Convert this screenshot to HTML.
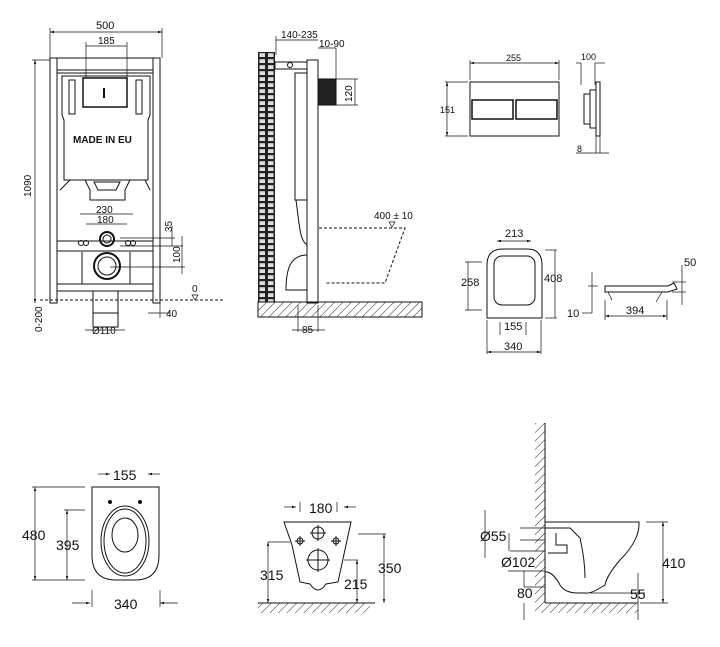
<!DOCTYPE html>
<html><head><meta charset="utf-8"><style>
html,body{margin:0;padding:0;background:#fff}
svg{display:block}
text{font-family:"Liberation Sans",Arial,sans-serif;fill:#111}
</style></head><body>
<svg width="720" height="647" viewBox="0 0 720 647" xmlns="http://www.w3.org/2000/svg">
<defs>
<pattern id="hatch" width="6" height="6" patternUnits="userSpaceOnUse" patternTransform="rotate(45)">
<line x1="0" y1="0" x2="0" y2="6" stroke="#222" stroke-width="1"/></pattern>
<pattern id="tile" x="258" y="52" width="8.5" height="6" patternUnits="userSpaceOnUse">
<rect width="8.5" height="6" fill="#222"/><rect x="1.5" y="1.2" width="5.5" height="3.8" fill="#ddd"/></pattern>
<marker id="a" viewBox="0 0 10 10" refX="10" refY="5" markerWidth="6" markerHeight="6" orient="auto-start-reverse"><path d="M0,2 L10,5 L0,8z" fill="#111"/></marker>
</defs>
<g stroke="#111" fill="none" stroke-width="1">
<!-- ===== Frame front ===== -->
<rect x="50" y="58" width="7" height="245"/><rect x="153" y="58" width="7" height="245"/>
<rect x="57" y="58" width="96" height="15"/>
<line x1="57" y1="70" x2="153" y2="70"/>
<path d="M62 76 H150 V115 L148 120 V180 H64 V120 L62 115 Z"/>
<rect x="83" y="78" width="44" height="29" stroke-width="1.5"/>
<line x1="104" y1="88" x2="104" y2="98" stroke-width="2"/>
<rect x="69" y="80" width="6" height="34"/><rect x="136" y="80" width="6" height="34"/>
<path d="M60 190 L70 180 H85 L90 190 V200 H125 V190 L130 180 H145 L150 190"/>
<path d="M94 182 H120 L116 190 H98 Z"/>
<line x1="57" y1="241" x2="153" y2="241"/><line x1="57" y1="251" x2="153" y2="251"/>
<rect x="57" y="284" width="96" height="7"/>
<line x1="82" y1="252" x2="82" y2="284"/><line x1="130" y1="252" x2="130" y2="284"/>
<circle cx="107" cy="239" r="7" stroke-width="2"/><circle cx="107" cy="239" r="4"/>
<circle cx="107" cy="266" r="13" stroke-width="2"/><circle cx="107" cy="266" r="9"/>
<circle cx="81" cy="243" r="2.5"/><circle cx="86" cy="243" r="2.5"/><circle cx="128" cy="243" r="2.5"/><circle cx="133" cy="243" r="2.5"/>
<rect x="93" y="291" width="25" height="36"/><line x1="93" y1="313" x2="118" y2="313"/>
<line x1="40" y1="300" x2="225" y2="300" stroke-dasharray="3,2"/>
<path d="M192 295 L198 295 L195 300 Z" stroke-width=".7"/>
<!-- dims frame -->
<line x1="50" y1="28" x2="50" y2="58" stroke-width=".7"/><line x1="162" y1="28" x2="162" y2="58" stroke-width=".7"/>
<line x1="50" y1="32" x2="162" y2="32" marker-start="url(#a)" marker-end="url(#a)" stroke-width=".7"/>
<line x1="86" y1="42" x2="86" y2="78" stroke-width=".7"/><line x1="127" y1="42" x2="127" y2="78" stroke-width=".7"/>
<line x1="86" y1="46" x2="127" y2="46" stroke-width=".7"/>
<line x1="35" y1="60" x2="35" y2="303" stroke-width=".7" marker-start="url(#a)" marker-end="url(#a)"/>
<line x1="32" y1="60" x2="50" y2="60" stroke-width=".7"/>
<line x1="80" y1="214" x2="133" y2="214" stroke-width=".7"/><line x1="86" y1="224" x2="127" y2="224" stroke-width=".7"/>
<line x1="120" y1="238" x2="175" y2="238" stroke-width=".7"/><line x1="120" y1="246" x2="183" y2="246" stroke-width=".7"/><line x1="110" y1="267" x2="185" y2="267" stroke-width=".7"/>
<line x1="172" y1="226" x2="172" y2="246" stroke-width=".7"/><line x1="182" y1="236" x2="182" y2="274" stroke-width=".7"/>
<line x1="160" y1="303" x2="160" y2="318" stroke-width=".7"/><line x1="148" y1="313" x2="170" y2="313" stroke-width=".7"/>
<line x1="85" y1="330" x2="125" y2="330" stroke-width=".7"/>
<!-- ===== Side view ===== -->
<rect x="258" y="52" width="17" height="250" fill="url(#tile)" stroke="none"/>
<rect x="307" y="60" width="11" height="243"/>
<rect x="275" y="62" width="32" height="7"/><circle cx="290" cy="65" r="2.5"/>
<path d="M295 73 H307 V200 H295 Z"/><path d="M296 200 C300 230 300 240 307 245"/>
<path d="M307 255 C290 255 286 270 286 290 H307"/>
<rect x="318" y="79" width="18" height="26" fill="#222"/>
<rect x="258" y="302" width="164" height="15" fill="url(#hatch)"/>
<line x1="258" y1="302" x2="422" y2="302"/>
<path d="M319 228 H405 L385 283 H325" stroke-dasharray="3,2"/>
<path d="M389 222 L395 222 L392 227 Z" stroke-width=".7"/>
<line x1="276" y1="36" x2="276" y2="55" stroke-width=".7"/><line x1="276" y1="40" x2="318" y2="40" stroke-width=".7"/>
<line x1="318" y1="48" x2="336" y2="48" stroke-width=".7"/><line x1="336" y1="48" x2="336" y2="80" stroke-width=".7"/>
<line x1="355" y1="79" x2="355" y2="105" stroke-width=".7"/><line x1="336" y1="79" x2="358" y2="79" stroke-width=".7"/><line x1="336" y1="105" x2="358" y2="105" stroke-width=".7"/>
<line x1="298" y1="305" x2="298" y2="332" stroke-width=".7"/><line x1="318" y1="305" x2="318" y2="332" stroke-width=".7"/><line x1="292" y1="330" x2="325" y2="330" stroke-width=".7"/>
<!-- ===== Flush plate ===== -->
<rect x="470" y="82" width="89" height="54"/>
<rect x="472" y="100" width="41" height="19" stroke-width="1.5"/><rect x="516" y="100" width="41" height="19" stroke-width="1.5"/>
<line x1="470" y1="63" x2="559" y2="63" stroke-width=".7" marker-start="url(#a)" marker-end="url(#a)"/>
<line x1="470" y1="60" x2="470" y2="80" stroke-width=".7"/><line x1="559" y1="60" x2="559" y2="80" stroke-width=".7"/>
<line x1="447" y1="82" x2="447" y2="136" stroke-width=".7" marker-start="url(#a)" marker-end="url(#a)"/>
<line x1="445" y1="82" x2="468" y2="82" stroke-width=".7"/><line x1="445" y1="136" x2="468" y2="136" stroke-width=".7"/>
<rect x="596" y="82" width="4" height="54"/><rect x="590" y="90" width="6" height="38"/><rect x="584" y="94" width="6" height="30"/>
<line x1="581" y1="63" x2="581" y2="85" stroke-width=".7"/><line x1="595" y1="63" x2="595" y2="85" stroke-width=".7"/>
<line x1="576" y1="63" x2="581" y2="63" stroke-width=".7"/><line x1="595" y1="63" x2="605" y2="63" stroke-width=".7"/>
<line x1="596" y1="136" x2="596" y2="153" stroke-width=".7"/><line x1="600" y1="136" x2="600" y2="153" stroke-width=".7"/>
<line x1="576" y1="153" x2="609" y2="153" stroke-width=".7"/>
<!-- ===== Seat top ===== -->
<path d="M487 318 V265 Q487 249 503 249 H527 Q542 249 542 265 V318 Z"/>
<rect x="494" y="256" width="41" height="49" rx="8"/>
<line x1="497" y1="241" x2="531" y2="241" stroke-width=".7" marker-start="url(#a)" marker-end="url(#a)"/>
<line x1="468" y1="262" x2="468" y2="310" stroke-width=".7"/><line x1="465" y1="262" x2="482" y2="262" stroke-width=".7"/><line x1="465" y1="310" x2="482" y2="310" stroke-width=".7"/>
<line x1="555" y1="250" x2="555" y2="318" stroke-width=".7"/><line x1="545" y1="250" x2="557" y2="250" stroke-width=".7"/><line x1="545" y1="318" x2="557" y2="318" stroke-width=".7"/>
<line x1="500" y1="322" x2="500" y2="335" stroke-width=".7"/><line x1="526" y1="322" x2="526" y2="335" stroke-width=".7"/>
<line x1="487" y1="320" x2="487" y2="354" stroke-width=".7"/><line x1="541" y1="320" x2="541" y2="354" stroke-width=".7"/>
<line x1="487" y1="352" x2="541" y2="352" stroke-width=".7" marker-start="url(#a)" marker-end="url(#a)"/>
<!-- seat side -->
<path d="M605 286 H668 L674 283 L677 289 L668 292 H605 Z"/>
<line x1="608" y1="292" x2="612" y2="300" stroke-width=".7"/><line x1="662" y1="292" x2="656" y2="302" stroke-width=".7"/>
<line x1="605" y1="300" x2="605" y2="320" stroke-width=".7"/><line x1="667" y1="300" x2="667" y2="320" stroke-width=".7"/>
<line x1="605" y1="316" x2="667" y2="316" stroke-width=".7" marker-start="url(#a)" marker-end="url(#a)"/>
<line x1="682" y1="265" x2="682" y2="305" stroke-width=".7"/><line x1="672" y1="282" x2="686" y2="282" stroke-width=".7"/><line x1="672" y1="292" x2="686" y2="292" stroke-width=".7"/>
<line x1="592" y1="272" x2="592" y2="313" stroke-width=".7"/><line x1="588" y1="286" x2="598" y2="286" stroke-width=".7"/><line x1="582" y1="313" x2="592" y2="313" stroke-width=".7"/>
<!-- ===== Bottom: bowl top view ===== -->
<path d="M92 487 H159 V555 Q159 580 135 580 H116 Q92 580 92 555 Z"/>
<ellipse cx="125" cy="541" rx="24" ry="35"/><ellipse cx="125" cy="541" rx="21" ry="32"/>
<ellipse cx="125" cy="535" rx="13" ry="17"/>
<circle cx="110" cy="502" r="1.5" fill="#111"/><circle cx="140" cy="502" r="1.5" fill="#111"/>
<line x1="35" y1="487" x2="35" y2="580" stroke-width=".7" marker-start="url(#a)" marker-end="url(#a)"/>
<line x1="32" y1="487" x2="85" y2="487" stroke-width=".7"/><line x1="32" y1="580" x2="85" y2="580" stroke-width=".7"/>
<line x1="67" y1="510" x2="67" y2="580" stroke-width=".7" marker-start="url(#a)" marker-end="url(#a)"/>
<line x1="64" y1="510" x2="85" y2="510" stroke-width=".7"/>
<line x1="98" y1="474" x2="110" y2="474" stroke-width=".7" marker-end="url(#a)"/><line x1="160" y1="474" x2="148" y2="474" stroke-width=".7" marker-end="url(#a)"/>
<line x1="72" y1="603" x2="90" y2="603" stroke-width=".7" marker-end="url(#a)"/><line x1="178" y1="603" x2="160" y2="603" stroke-width=".7" marker-end="url(#a)"/>
<line x1="92" y1="590" x2="92" y2="607" stroke-width=".7"/><line x1="160" y1="590" x2="160" y2="607" stroke-width=".7"/>
<!-- back view -->
<path d="M284 522 H351 L346 545 L338 582 L326 584 Q318 596 310 584 L300 582 L292 545 Z"/>
<circle cx="318" cy="533" r="6"/><line x1="310" y1="533" x2="326" y2="533"/><line x1="318" y1="525" x2="318" y2="541"/>
<circle cx="300" cy="541" r="3"/><line x1="295" y1="541" x2="305" y2="541"/><line x1="300" y1="536" x2="300" y2="546"/>
<circle cx="336" cy="541" r="3"/><line x1="331" y1="541" x2="341" y2="541"/><line x1="336" y1="536" x2="336" y2="546"/>
<circle cx="318" cy="560" r="10"/><line x1="306" y1="560" x2="330" y2="560"/><line x1="318" y1="548" x2="318" y2="572"/>
<rect x="258" y="603" width="112" height="10" fill="url(#hatch)" stroke="none"/><line x1="258" y1="603" x2="375" y2="603"/>
<line x1="268" y1="542" x2="290" y2="542" stroke-width=".7"/><line x1="268" y1="542" x2="268" y2="603" stroke-width=".7" marker-start="url(#a)" marker-end="url(#a)"/>
<line x1="344" y1="560" x2="358" y2="560" stroke-width=".7"/><line x1="357" y1="560" x2="357" y2="603" stroke-width=".7" marker-start="url(#a)" marker-end="url(#a)"/>
<line x1="358" y1="534" x2="386" y2="534" stroke-width=".7"/><line x1="384" y1="534" x2="384" y2="603" stroke-width=".7" marker-start="url(#a)" marker-end="url(#a)"/>
<line x1="284" y1="507" x2="296" y2="507" stroke-width=".7" marker-end="url(#a)"/><line x1="356" y1="507" x2="344" y2="507" stroke-width=".7" marker-end="url(#a)"/>
<line x1="300" y1="502" x2="300" y2="512" stroke-width=".7"/><line x1="337" y1="502" x2="337" y2="512" stroke-width=".7"/>
<!-- side bowl -->
<rect x="535" y="423" width="10" height="190" fill="url(#hatch)" stroke="none"/>
<line x1="545" y1="423" x2="545" y2="603"/>
<rect x="545" y="603" width="93" height="10" fill="url(#hatch)" stroke="none"/><line x1="545" y1="603" x2="638" y2="603"/>
<path d="M545 522 H639 Q640 540 620 560 Q607 575 605 585 L600 588 Q590 594 585 593 H578 Q565 593 560 585 Q555 575 548 572 H545"/>
<path d="M545 528 H570 L580 538 Q585 560 585 578"/>
<path d="M548 553 H567 V545 H556 V533"/>
<line x1="520" y1="528" x2="545" y2="528" stroke-width=".7"/><line x1="520" y1="540" x2="545" y2="540" stroke-width=".7"/>
<line x1="510" y1="551" x2="545" y2="551" stroke-width=".7"/><line x1="508" y1="571" x2="545" y2="571" stroke-width=".7"/>
<line x1="524" y1="587" x2="545" y2="587" stroke-width=".7"/>
<line x1="485" y1="510" x2="485" y2="558" stroke-width=".7"/><line x1="509" y1="533" x2="509" y2="551" stroke-width=".7"/>
<line x1="524" y1="571" x2="524" y2="587" stroke-width=".7"/><line x1="524" y1="603" x2="524" y2="620" stroke-width=".7"/>
<line x1="646" y1="522" x2="668" y2="522" stroke-width=".7"/>
<line x1="663" y1="522" x2="663" y2="603" stroke-width=".7" marker-start="url(#a)" marker-end="url(#a)"/>
<line x1="640" y1="603" x2="668" y2="603" stroke-width=".7"/>
<line x1="590" y1="593" x2="645" y2="593" stroke-width=".7"/>
<line x1="638" y1="573" x2="638" y2="620" stroke-width=".7"/>
</g>
<g font-size="10">
<text x="96" y="29" font-size="11">500</text><text x="98" y="44">185</text>
<text x="73" y="143" font-weight="bold" font-size="10">MADE IN EU</text>
<text x="96" y="213">230</text><text x="97" y="223">180</text>
<text transform="translate(31,197) rotate(-90)">1090</text>
<text transform="translate(172,232) rotate(-90)">35</text>
<text transform="translate(180,263) rotate(-90)">100</text>
<text transform="translate(42,332) rotate(-90)">0-200</text>
<text x="192" y="292">0</text>
<text x="166" y="317">40</text><text x="92" y="334">Ø110</text>
<text x="281" y="38">140-235</text><text x="319" y="47">10-90</text>
<text transform="translate(352,102) rotate(-90)">120</text>
<text x="374" y="219">400 ± 10</text>
<text x="302" y="333">85</text>
<text x="506" y="61" font-size="9">255</text><text x="440" y="113" font-size="9">151</text>
<text x="581" y="60" font-size="9">100</text><text x="577" y="152" font-size="9">8</text>
<text x="505" y="237" font-size="11">213</text>
<text x="461" y="286" font-size="11">258</text><text x="544" y="282" font-size="11">408</text>
<text x="504" y="330" font-size="11">155</text><text x="504" y="350" font-size="11">340</text>
<text x="567" y="317" font-size="11">10</text><text x="626" y="314" font-size="11">394</text>
<text x="684" y="266" font-size="11">50</text>
</g>
<g font-size="14">
<text x="22" y="540">480</text><text x="56" y="550">395</text>
<text x="113" y="480">155</text><text x="114" y="609">340</text>
<text x="309" y="513">180</text>
<text x="260" y="580">315</text><text x="378" y="573">350</text><text x="344" y="589">215</text>
<text x="480" y="541">Ø55</text><text x="501" y="567">Ø102</text>
<text x="517" y="598">80</text><text x="630" y="599">55</text><text x="662" y="568">410</text>
</g>
</svg>
</body></html>
